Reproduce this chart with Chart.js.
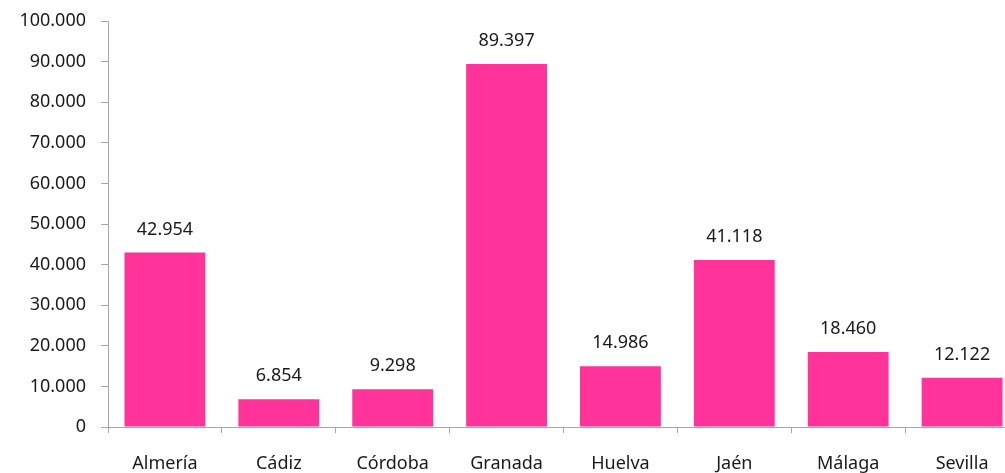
<!DOCTYPE html>
<html>
<head>
<meta charset="utf-8">
<script src="https://cdn.jsdelivr.net/npm/chart.js@4/dist/chart.umd.min.js"></script>
<style>
    html, body { margin: 0; padding: 0; background: #fff; overflow: hidden; }
    #wrap { position: relative; width: 1019px; height: 473px; }
</style>
</head>
<body>
<div id="wrap"><canvas id="barChart"></canvas></div>
<script>
const provincias = ['Almería', 'Cádiz', 'Córdoba', 'Granada', 'Huelva', 'Jaén', 'Málaga', 'Sevilla'];
const valores = [42954, 6854, 9298, 89397, 14986, 41118, 18460, 12122];
const yTicks = [0, 10000, 20000, 30000, 40000, 50000, 60000, 70000, 80000, 90000, 100000];

function fmt(n) {
    return String(n).replace(/\B(?=(\d{3})+(?!\d))/g, '.');
}

// etiquetas de valor encima de cada barra
const valueLabels = {
    id: 'valueLabels',
    afterDatasetsDraw(chart) {
        const ctx = chart.ctx;
        const meta = chart.getDatasetMeta(0);
        ctx.save();
        ctx.font = '18px "Noto Sans"';
        ctx.fillStyle = '#1a1a1a';
        ctx.textAlign = 'center';
        ctx.textBaseline = 'middle';
        meta.data.forEach(function (bar, i) {
            ctx.fillText(fmt(valores[i]), bar.x, bar.y - 23);
        });
        ctx.restore();
    }
};

document.addEventListener('DOMContentLoaded', function () {
    const ctx = document.getElementById('barChart').getContext('2d');
    new Chart(ctx, {
        type: 'bar',
        data: {
            labels: provincias,
            datasets: [{
                data: valores,
                backgroundColor: '#FF3399',
                borderWidth: 0,
                barPercentage: 0.71,
                categoryPercentage: 1
            }]
        },
        options: {
            responsive: true,
            maintainAspectRatio: false,
            animation: false,
            layout: { padding: { top: 21, left: 0, right: 0, bottom: 0 } },
            plugins: {
                legend: { display: false },
                tooltip: { enabled: false }
            },
            scales: {
                x: {
                    offset: true,
                    border: { display: true, color: '#a6a6a6', width: 1 },
                    grid: {
                        offset: true,
                        drawOnChartArea: false,
                        drawTicks: true,
                        tickLength: 6,
                        color: '#a6a6a6'
                    },
                    ticks: {
                        color: '#1a1a1a',
                        font: { family: 'Noto Sans', size: 18 },
                        padding: 20,
                        maxRotation: 0
                    },
                    afterFit: function (scale) { scale.height = 46; }
                },
                y: {
                    min: 0,
                    max: 100000,
                    border: { display: true, color: '#a6a6a6', width: 1 },
                    grid: {
                        drawOnChartArea: false,
                        drawTicks: true,
                        tickLength: 7,
                        color: '#a6a6a6'
                    },
                    afterBuildTicks: function (scale) {
                        scale.ticks = yTicks.map(function (v) { return { value: v }; });
                    },
                    ticks: {
                        color: '#1a1a1a',
                        font: { family: 'Noto Sans', size: 18 },
                        padding: 15,
                        callback: function (v) { return fmt(v); }
                    },
                    afterFit: function (scale) {
                        scale.width = 108;
                        scale.paddingTop = 0;
                        scale.paddingBottom = 0;
                    }
                }
            }
        },
        plugins: [valueLabels]
    });
});
</script>
</body>
</html>
